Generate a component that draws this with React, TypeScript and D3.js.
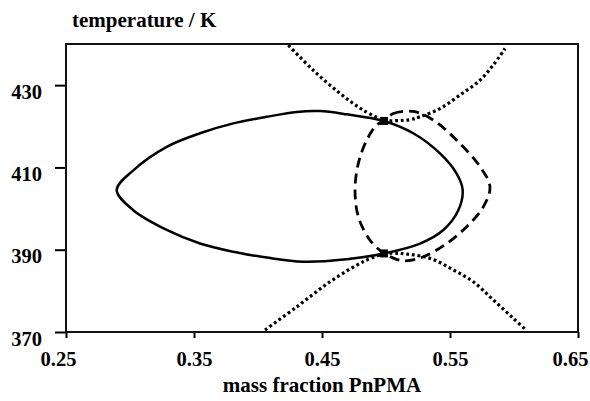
import { useRef, useEffect } from "react";
import * as d3 from "d3";

// closed binodal loop (solid)
const solidLoop: [number, number][] = [
  [0.2896, 404.5], [0.3026, 409.3], [0.3287, 415.0], [0.3547, 418.3],
  [0.3807, 420.7], [0.4068, 422.3], [0.4302, 423.5], [0.4484, 423.7],
  [0.4693, 422.9], [0.4984, 421.3], [0.5213, 418.3], [0.5422, 413.4],
  [0.5552, 408.5], [0.5599, 404.5], [0.5565, 399.6], [0.5448, 394.8],
  [0.5266, 391.5], [0.4984, 389.1], [0.4693, 387.7], [0.4354, 387.1],
  [0.4068, 388.1], [0.3807, 389.5], [0.3547, 391.5], [0.3287, 394.8],
  [0.3026, 399.6],
];

// closed loop (dashed)
const dashedLoop: [number, number][] = [
  [0.4984, 421.3], [0.5057, 423.1], [0.5213, 423.6], [0.537, 421.5],
  [0.5552, 416.6], [0.5734, 410.2], [0.5812, 405.3], [0.576, 400.4],
  [0.563, 395.6], [0.5474, 391.5], [0.5292, 388.3], [0.5135, 387.3],
  [0.504, 388.2], [0.4984, 389.1], [0.4875, 392.3], [0.4784, 398.0],
  [0.4758, 404.5], [0.4784, 411.0], [0.4849, 416.6], [0.4927, 420.3],
];

// dotted branches
const dotUpperLeft: [number, number][] = [
  [0.4237, 439.7], [0.4432, 433.6], [0.464, 428.0], [0.4823, 423.9], [0.4984, 421.3],
];
const dotUpperRight: [number, number][] = [
  [0.4984, 421.3], [0.5187, 421.6], [0.5266, 422.3], [0.5422, 424.3],
  [0.5578, 427.6], [0.5734, 431.2], [0.5838, 434.9], [0.593, 438.9],
];
const dotLowerLeft: [number, number][] = [
  [0.4055, 370.5], [0.4302, 376.1], [0.4562, 382.2], [0.4823, 387.1], [0.4984, 389.1],
];
const dotLowerRight: [number, number][] = [
  [0.4984, 389.1], [0.5109, 389.1], [0.5344, 387.9], [0.5526, 385.1],
  [0.5682, 382.2], [0.5838, 377.8], [0.5995, 373.3], [0.6094, 370.5],
];

const criticalPoints: [number, number][] = [
  [0.4984, 421.3],
  [0.4984, 389.1],
];

const xTicks = [0.25, 0.35, 0.45, 0.55, 0.65];
const yTicks = [370, 390, 410, 430];

export default function App() {
  const ref = useRef<SVGSVGElement>(null);

  function init() {
    const settings = {
      width: 590,
      height: 401,
      margin: { top: 44, right: 12, bottom: 69, left: 66 },
    };
    const font = "'Liberation Serif', 'Times New Roman', serif";

    const x = d3
      .scaleLinear()
      .domain([0.25, 0.65])
      .range([settings.margin.left, settings.width - settings.margin.right]);
    const y = d3
      .scaleLinear()
      .domain([370, 440])
      .range([settings.height - settings.margin.bottom, settings.margin.top]);

    const svg = d3.select(ref.current);
    svg.selectAll("*").remove();
    svg
      .attr("viewBox", [0, 0, settings.width, settings.height] as any)
      .attr("font-family", font)
      .attr("font-weight", "bold");

    const xAxis = (g: any) =>
      g
        .attr("transform", `translate(0,${settings.height - settings.margin.bottom})`)
        .call(d3.axisBottom(x).tickValues(xTicks).tickSize(6).tickFormat(d3.format(".2f")))
        .call((g: any) => g.select(".domain").remove())
        .call((g: any) => g.selectAll(".tick line").attr("stroke", "#000").attr("stroke-width", 2))
        .call((g: any) =>
          g
            .selectAll(".tick text")
            .attr("y", 34)
            .attr("dy", 0)
            .attr("dx", (d: number, i: number) => (i === 0 || i === xTicks.length - 1 ? -8 : 0))
            .attr("font-size", 20.5)
            .attr("font-family", font)
            .attr("fill", "#000")
        );

    const yAxis = (g: any) =>
      g
        .attr("transform", `translate(${settings.margin.left},0)`)
        .call(d3.axisLeft(y).tickValues(yTicks).tickSize(11).tickFormat(d3.format("d")))
        .call((g: any) => g.select(".domain").remove())
        .call((g: any) => g.selectAll(".tick line").attr("stroke", "#000").attr("stroke-width", 2))
        .call((g: any) =>
          g
            .selectAll(".tick text")
            .attr("x", -24)
            .attr("y", 13)
            .attr("dy", 0)
            .attr("font-size", 20.5)
            .attr("font-family", font)
            .attr("fill", "#000")
        );

    svg.append("g").call(xAxis);
    svg.append("g").call(yAxis);

    // frame
    svg
      .append("rect")
      .attr("x", x(0.25))
      .attr("y", y(440))
      .attr("width", x(0.65) - x(0.25))
      .attr("height", y(370) - y(440))
      .attr("fill", "none")
      .attr("stroke", "#111")
      .attr("stroke-width", 2);

    const line = d3
      .line<[number, number]>()
      .x((d) => x(d[0]))
      .y((d) => y(d[1]))
      .curve(d3.curveCatmullRom);
    const loop = d3
      .line<[number, number]>()
      .x((d) => x(d[0]))
      .y((d) => y(d[1]))
      .curve(d3.curveCatmullRomClosed);

    [dotUpperLeft, dotUpperRight, dotLowerLeft, dotLowerRight].forEach((branch) => {
      svg
        .append("path")
        .attr("d", line(branch))
        .attr("fill", "none")
        .attr("stroke", "#000")
        .attr("stroke-width", 3.2)
        .attr("stroke-dasharray", "2.8,2.8");
    });

    svg
      .append("path")
      .attr("d", loop(dashedLoop))
      .attr("fill", "none")
      .attr("stroke", "#000")
      .attr("stroke-width", 2.8)
      .attr("stroke-dasharray", "10,6");

    svg
      .append("path")
      .attr("d", loop(solidLoop))
      .attr("fill", "none")
      .attr("stroke", "#000")
      .attr("stroke-width", 2.5);

    svg
      .append("g")
      .selectAll("rect")
      .data(criticalPoints)
      .join("rect")
      .attr("x", (d) => x(d[0]) - 4)
      .attr("y", (d) => y(d[1]) - 4)
      .attr("width", 8)
      .attr("height", 8)
      .attr("fill", "#000");

    svg
      .append("text")
      .attr("x", 72)
      .attr("y", 27)
      .attr("font-size", 21)
      .attr("fill", "#000")
      .text("temperature / K");

    svg
      .append("text")
      .attr("x", (x(0.25) + x(0.65)) / 2)
      .attr("y", 392)
      .attr("text-anchor", "middle")
      .attr("font-size", 21)
      .attr("fill", "#000")
      .text("mass fraction PnPMA");
  }

  useEffect(init, []);
  return (
    <svg
      ref={ref}
      width={590}
      height={401}
      style={{ position: "absolute", left: 0, top: 0, display: "block", background: "#fff" }}
    />
  );
}
